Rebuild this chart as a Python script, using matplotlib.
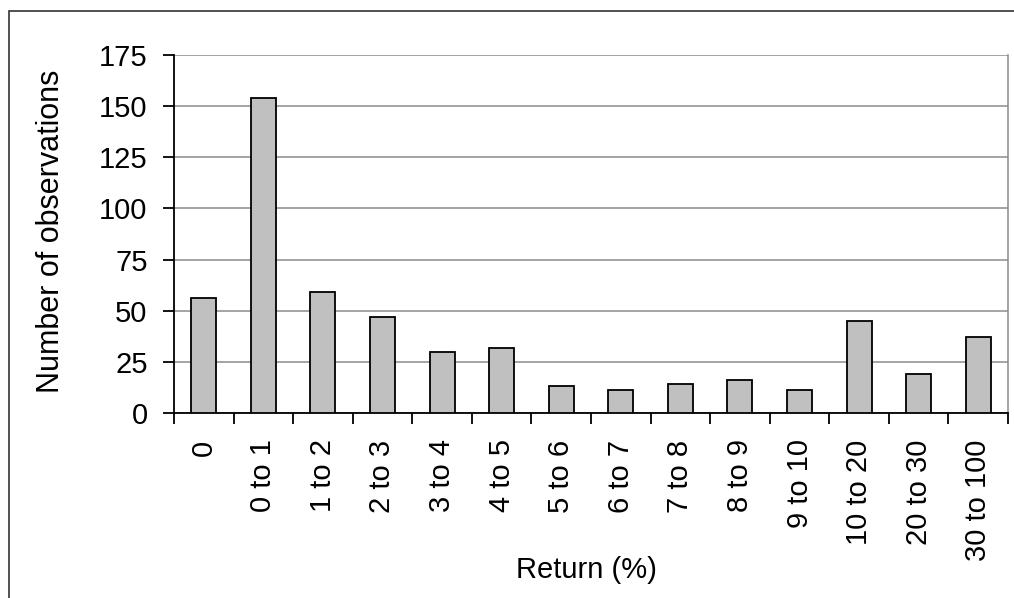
import matplotlib
matplotlib.use("Agg")
import matplotlib.pyplot as plt
import numpy as np
from matplotlib.patches import Rectangle

CATEGORIES = ["0", "0 to 1", "1 to 2", "2 to 3", "3 to 4", "4 to 5", "5 to 6",
              "6 to 7", "7 to 8", "8 to 9", "9 to 10", "10 to 20", "20 to 30",
              "30 to 100"]
COUNTS = [56, 154, 59, 47, 30, 32, 13, 11, 14, 16, 11, 45, 19, 37]
Y_TICKS = [0, 25, 50, 75, 100, 125, 150, 175]

W, H = 1014, 598


def main():
    plt.rcParams["font.family"] = ["Liberation Sans", "DejaVu Sans"]
    plt.rcParams["font.size"] = 21

    fig = plt.figure(figsize=(W / 100, H / 100), dpi=100)
    ax = fig.add_axes([174 / W, 1 - 413 / H, (1008 - 174) / W, (413 - 55) / H])

    x = np.arange(len(CATEGORIES))
    ax.bar(x, COUNTS, width=0.42, color="#c0c0c0", edgecolor="black",
           linewidth=1.3, zorder=3)

    ax.set_xlim(-0.5, len(CATEGORIES) - 0.5)
    ax.set_ylim(0, 175)
    ax.set_yticks(Y_TICKS)
    ax.yaxis.grid(True, color="#8c8c8c", linewidth=1.1, zorder=0)

    # labels at bar centres, tick marks between categories
    ax.set_xticks(x)
    ax.set_xticklabels(CATEGORIES, rotation=90)
    ax.set_xticks(np.arange(len(CATEGORIES) + 1) - 0.5, minor=True)
    ax.tick_params(axis="x", which="major", length=0, pad=19)
    ax.tick_params(axis="x", which="minor", length=8, width=1.3,
                   direction="out", color="black")
    ax.tick_params(axis="y", length=8, width=1.3, direction="out",
                   color="black", pad=11)

    for side in ["left", "bottom"]:
        ax.spines[side].set_color("black")
        ax.spines[side].set_linewidth(1.3)
    ax.spines["right"].set_color("#8c8c8c")
    ax.spines["right"].set_linewidth(1.1)
    ax.spines["top"].set_visible(False)

    ax.set_ylabel("Number of observations", fontsize=22)
    ax.yaxis.set_label_coords((66 - 174) / (1008 - 174), 0.508)
    ax.set_xlabel("Return (%)")
    ax.xaxis.set_label_coords((586 - 174) / (1008 - 174), (413 - 556) / (413 - 55))

    # outer chart frame (runs off the right and bottom edge)
    fig.patches.append(Rectangle((9 / W, -0.5), 2, 1.5 - 11 / H,
                                 transform=fig.transFigure, fill=False,
                                 edgecolor="#333333", linewidth=1.2))

    plt.savefig("out.png", dpi=100)


if __name__ == "__main__":
    main()
